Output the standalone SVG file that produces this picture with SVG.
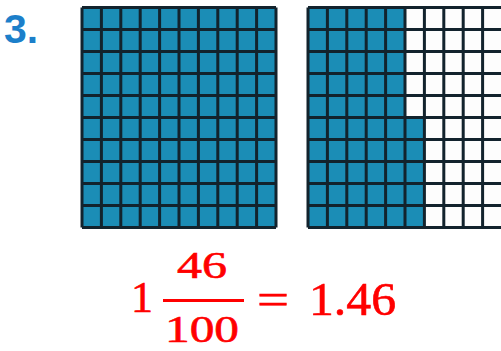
<svg xmlns="http://www.w3.org/2000/svg" width="501" height="351" viewBox="0 0 501 351">
<style>
.blue{fill:#1b8db6}
.white{fill:#fdfdfd}
.grid{fill:none;stroke:#12232d;stroke-width:3}
.num{font-family:"Liberation Sans",Arial,sans-serif;font-weight:bold;fill:#1c7fca;font-size:41px}
.math{font-family:"Liberation Serif","Times New Roman",serif;fill:#ff0000;stroke:#ff0000;stroke-width:0.6}
</style>
<rect width="501" height="351" fill="#ffffff"/>
<g id="label">
<text class="num" x="4" y="43">3.</text>
</g>
<g id="grid1">
<rect class="blue" x="82" y="7.5" width="194" height="220"/>
<path class="grid" d="M82 7.5V227.5M101.4 7.5V227.5M120.8 7.5V227.5M140.2 7.5V227.5M159.6 7.5V227.5M179 7.5V227.5M198.4 7.5V227.5M217.8 7.5V227.5M237.2 7.5V227.5M256.6 7.5V227.5M276 7.5V227.5M82 7.5H276M82 29.5H276M82 51.5H276M82 73.5H276M82 95.5H276M82 117.5H276M82 139.5H276M82 161.5H276M82 183.5H276M82 205.5H276M82 227.5H276"/>
</g>
<g id="grid2">
<rect class="white" x="308" y="7.5" width="194" height="220"/>
<rect class="blue" x="308" y="7.5" width="97" height="110"/>
<rect class="blue" x="308" y="117.5" width="116.4" height="110"/>
<path class="grid" d="M308 7.5V227.5M327.4 7.5V227.5M346.8 7.5V227.5M366.2 7.5V227.5M385.6 7.5V227.5M405 7.5V227.5M424.4 7.5V227.5M443.8 7.5V227.5M463.2 7.5V227.5M482.6 7.5V227.5M308 7.5H502M308 29.5H502M308 51.5H502M308 73.5H502M308 95.5H502M308 117.5H502M308 139.5H502M308 161.5H502M308 183.5H502M308 205.5H502M308 227.5H502"/>
</g>
<g id="equation">
<text class="math" x="142" y="312" font-size="44" text-anchor="middle">1</text>
<text class="math" x="177" y="278" font-size="37" textLength="50" lengthAdjust="spacingAndGlyphs">46</text>
<rect x="163" y="299" width="81" height="3" fill="#ff0000"/>
<text class="math" x="165" y="342" font-size="37" textLength="74" lengthAdjust="spacingAndGlyphs">100</text>
<text class="math" x="257" y="314" font-size="44" textLength="32" lengthAdjust="spacingAndGlyphs">=</text>
<text class="math" x="309" y="315" font-size="47" textLength="87" lengthAdjust="spacingAndGlyphs">1.46</text>
</g>
</svg>
